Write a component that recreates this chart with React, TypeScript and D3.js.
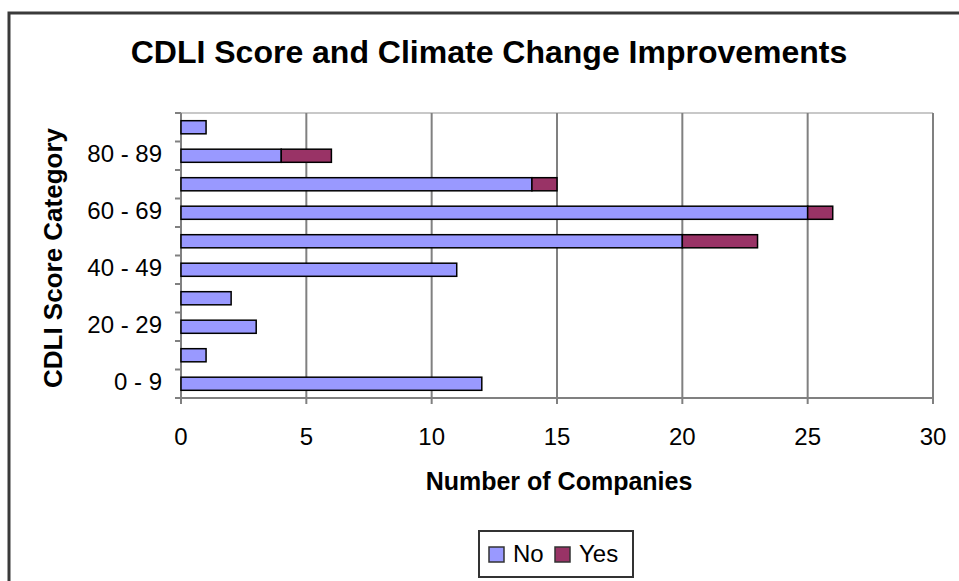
import React from "react";
import * as d3 from "d3";

const categories = ["0 - 9", "10 - 19", "20 - 29", "30 - 39", "40 - 49", "50 - 59", "60 - 69", "70 - 79", "80 - 89", "90 - 99"];
const shownLabels = ["0 - 9", "20 - 29", "40 - 49", "60 - 69", "80 - 89"];
const noValues = [12, 1, 3, 2, 11, 20, 25, 14, 4, 1];
const yesValues = [0, 0, 0, 0, 0, 3, 1, 1, 2, 0];
const seriesNames = ["No", "Yes"];
const seriesColors = ["#9999FF", "#993366"];
const xTicks = [0, 5, 10, 15, 20, 25, 30];

const W = 959;
const H = 581;
const left = 181, right = 933, top = 113, bottom = 398;
const FONT = "'Liberation Sans', Arial, sans-serif";

export default function App() {
  const x = d3.scaleLinear().domain([0, 30]).range([left, right]);
  const y = d3.scaleBand<string>().domain([...categories].reverse()).range([top, bottom]).paddingInner(0.54).paddingOuter(0.27);
  const yb = d3.scaleBand<string>().domain([...categories].reverse()).range([top, bottom]);

  const rows = categories.map((c, i) => ({ cat: c, No: noValues[i], Yes: yesValues[i] }));
  const stack = d3.stack<any>().keys(seriesNames)(rows);

  const boundaries = d3.range(categories.length + 1).map((i) => top + i * yb.step());

  return (
    <svg width={W} height={H} style={{ position: "absolute", left: 0, top: 0, background: "#fff" }} fontFamily={FONT}>
      <rect x={0} y={0} width={W} height={H} fill="#fff" />
      {/* outer frame */}
      <rect x={9} y={13} width={W + 20} height={H + 20} fill="none" stroke="#3a3a3a" strokeWidth={3} />
      {/* title */}
      <text x={489} y={63} textAnchor="middle" fontSize={32} fontWeight="bold" fill="#000">
        CDLI Score and Climate Change Improvements
      </text>
      {/* plot top border */}
      <line x1={left} x2={right} y1={top} y2={top} stroke="#c8c8c8" strokeWidth={2} />
      {/* gridlines */}
      {xTicks.filter((t) => t > 0).map((t) => (
        <line key={"g" + t} x1={x(t)} x2={x(t)} y1={top} y2={bottom} stroke="#808080" strokeWidth={2} />
      ))}
      {/* x axis */}
      <line x1={left} x2={right} y1={bottom} y2={bottom} stroke="#808080" strokeWidth={2} />
      {xTicks.map((t) => (
        <g key={"xt" + t}>
          <line x1={x(t)} x2={x(t)} y1={bottom} y2={bottom + 6} stroke="#808080" strokeWidth={2} />
          <text x={x(t)} y={445} textAnchor="middle" fontSize={24} fill="#000">{t}</text>
        </g>
      ))}
      {/* y axis */}
      <line x1={left} x2={left} y1={top} y2={bottom + 6} stroke="#808080" strokeWidth={2} />
      {boundaries.map((b, i) => (
        <line key={"yt" + i} x1={left - 6} x2={left} y1={b} y2={b} stroke="#808080" strokeWidth={2} />
      ))}
      {shownLabels.map((c) => (
        <text key={"yl" + c} x={162} y={(yb(c) as number) + yb.bandwidth() / 2 - 2} dy="0.35em" textAnchor="end" fontSize={24} fill="#000">{c}</text>
      ))}
      {/* bars */}
      {stack.map((s, si) => (
        <g key={s.key}>
          {s.map((d, i) => (d[1] - d[0] > 0 ? (
            <rect key={i} x={x(d[0])} y={y(rows[i].cat)} width={x(d[1]) - x(d[0])} height={y.bandwidth()} fill={seriesColors[si]} stroke="#000" strokeWidth={1.5} />
          ) : null))}
        </g>
      ))}
      {/* axis titles */}
      <text x={559} y={490} textAnchor="middle" fontSize={25} fontWeight="bold" fill="#000">Number of Companies</text>
      <text transform={`translate(62,258) rotate(-90)`} textAnchor="middle" fontSize={26} fontWeight="bold" fill="#000">CDLI Score Category</text>
      {/* legend */}
      <rect x={479} y={531} width={154} height={46} fill="#fff" stroke="#333" strokeWidth={2} />
      {seriesNames.map((n, i) => {
        const lx = i === 0 ? 489 : 555;
        return (
          <g key={"lg" + n}>
            <rect x={lx} y={547} width={15} height={15} fill={seriesColors[i]} stroke="#333" strokeWidth={1.5} />
            <text x={lx + 24} y={562} fontSize={24} fill="#000">{n}</text>
          </g>
        );
      })}
    </svg>
  );
}
